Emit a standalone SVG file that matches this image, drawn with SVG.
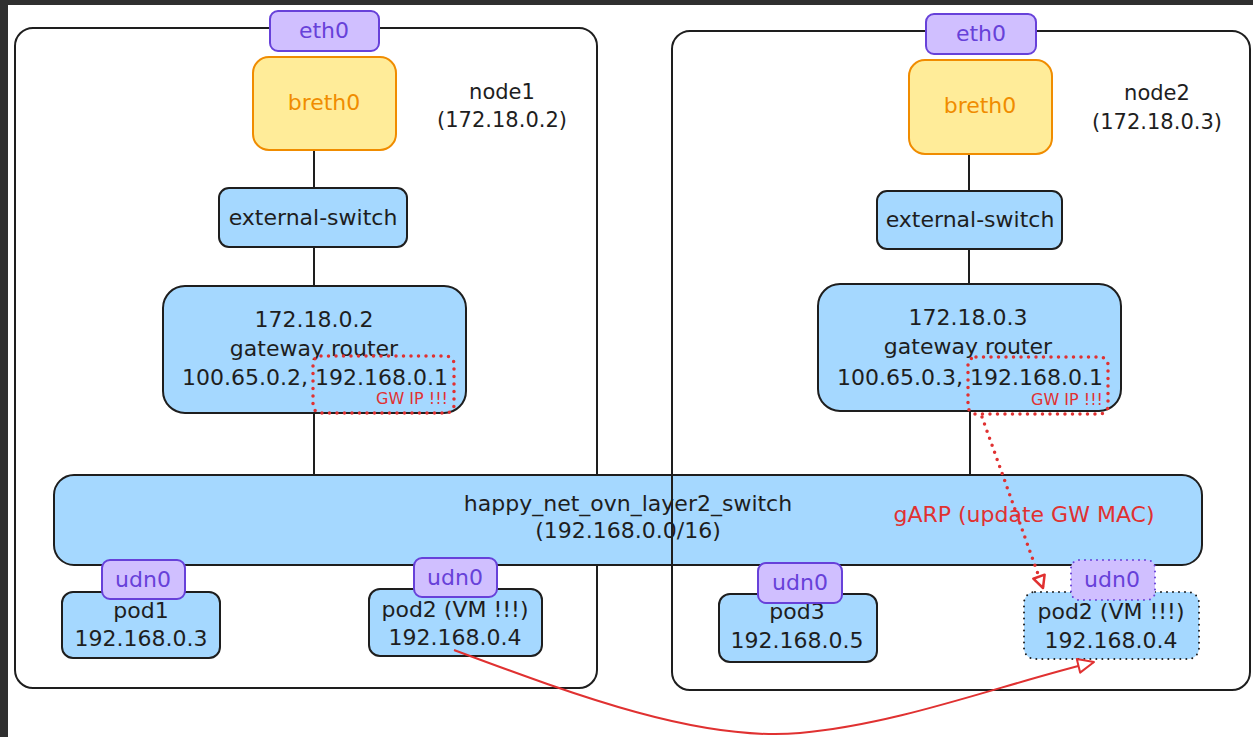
<svg xmlns="http://www.w3.org/2000/svg" width="1253" height="737" viewBox="0 0 1253 737">
<style>
text{font-family:"DejaVu Sans","Liberation Sans",sans-serif;font-size:22px;fill:#1e1e1e;text-anchor:middle}
.container{fill:none;stroke:#1e1e1e;stroke-width:2}
.blue{fill:#a5d8ff;stroke:#1e1e1e;stroke-width:2}
.blue-dot{fill:#a5d8ff;stroke:#1e1e1e;stroke-width:2;stroke-dasharray:0 6;stroke-linecap:round}
.tab{fill:#d0bfff;stroke:#6741d9;stroke-width:2}
.tab-dot{fill:#d0bfff;stroke:#6741d9;stroke-width:2;stroke-dasharray:0 6;stroke-linecap:round}
.yellow{fill:#ffec99;stroke:#f08c00;stroke-width:2}
.red-dot{fill:none;stroke:#e03131;stroke-width:3.5;stroke-dasharray:0 7.5;stroke-linecap:round}
.link{stroke:#1e1e1e;stroke-width:2;fill:none}
.purple{fill:#6741d9}
.orange{fill:#f08c00}
.red{fill:#e03131}
.small{font-size:16px;text-anchor:end}
.lbl{font-size:21px}
</style>
<defs>
<marker id="openArrow" viewBox="0 0 20 20" refX="18" refY="10" markerWidth="20" markerHeight="20" markerUnits="userSpaceOnUse" orient="auto">
<path d="M2,3 L18,10 L2,17 Z" fill="#ffffff" stroke="#e03131" stroke-width="2" stroke-linejoin="round"/>
</marker>
<marker id="smallArrow" viewBox="0 0 16 16" refX="14" refY="8" markerWidth="16" markerHeight="16" markerUnits="userSpaceOnUse" orient="auto">
<path d="M2,2 L14,8 L2,14 Z" fill="#ffffff" stroke="#e03131" stroke-width="2.5" stroke-linejoin="round"/>
</marker>
</defs>
<rect x="0" y="0" width="1253" height="737" fill="#ffffff"/>
<rect x="0" y="0" width="1253" height="5" fill="#2f2f2f"/>
<rect x="0" y="0" width="8" height="737" fill="#2f2f2f"/>

<g id="node1-container"><rect class="container" x="15" y="28" width="582" height="660" rx="18"/></g>

<g id="switch">
<rect class="blue" x="54" y="475" width="1148" height="90" rx="20"/>
<text x="628" y="511">happy_net_ovn_layer2_switch</text>
<text x="628" y="538">(192.168.0.0/16)</text>
</g>

<g id="node2-container"><rect class="container" x="672" y="31" width="578" height="659" rx="18"/></g>

<g id="connectors">
<line class="link" x1="314" y1="151" x2="314" y2="188"/>
<line class="link" x1="314" y1="247" x2="314" y2="286"/>
<line class="link" x1="314" y1="413" x2="314" y2="475"/>
<line class="link" x1="969" y1="154" x2="969" y2="191"/>
<line class="link" x1="969" y1="249" x2="969" y2="284"/>
<line class="link" x1="970" y1="411" x2="970" y2="475"/>
</g>

<g id="node1-label">
<text class="lbl" x="502" y="99">node1</text>
<text class="lbl" x="502" y="127">(172.18.0.2)</text>
</g>
<g id="node1-eth0"><rect class="tab" x="270" y="11" width="109" height="40" rx="8"/><text class="purple" x="324" y="38">eth0</text></g>
<g id="node1-breth0"><rect class="yellow" x="253" y="57" width="143" height="93" rx="16"/><text class="orange" x="324" y="110">breth0</text></g>
<g id="node1-external-switch"><rect class="blue" x="219" y="188" width="188" height="59" rx="10"/><text x="313" y="225">external-switch</text></g>
<g id="node1-gateway-router">
<rect class="blue" x="163" y="286" width="303" height="127" rx="22"/>
<text x="314" y="327">172.18.0.2</text>
<text x="314" y="356">gateway router</text>
<text x="315" y="385">100.65.0.2, 192.168.0.1</text>
<rect class="red-dot" x="313" y="356" width="141" height="57" rx="8"/>
<text class="red small" x="448" y="404">GW IP !!!</text>
</g>
<g id="node1-pod1">
<rect class="blue" x="62" y="592" width="158" height="66" rx="11"/>
<text x="141" y="618">pod1</text>
<text x="141" y="646">192.168.0.3</text>
</g>
<g id="node1-pod1-udn0"><rect class="tab" x="102" y="560" width="83" height="39" rx="8"/><text class="purple" x="143" y="587">udn0</text></g>
<g id="node1-pod2">
<rect class="blue" x="369" y="589" width="173" height="67" rx="11"/>
<text x="455" y="617">pod2 (VM !!!)</text>
<text x="455" y="645">192.168.0.4</text>
</g>
<g id="node1-pod2-udn0"><rect class="tab" x="414" y="558" width="83" height="39" rx="8"/><text class="purple" x="455" y="585">udn0</text></g>

<g id="node2-label">
<text class="lbl" x="1157" y="100">node2</text>
<text class="lbl" x="1157" y="129">(172.18.0.3)</text>
</g>
<g id="node2-eth0"><rect class="tab" x="926" y="14" width="110" height="40" rx="8"/><text class="purple" x="981" y="41">eth0</text></g>
<g id="node2-breth0"><rect class="yellow" x="909" y="60" width="143" height="94" rx="16"/><text class="orange" x="980" y="113">breth0</text></g>
<g id="node2-external-switch"><rect class="blue" x="877" y="191" width="185" height="58" rx="10"/><text x="970" y="227">external-switch</text></g>
<g id="node2-gateway-router">
<rect class="blue" x="818" y="284" width="303" height="127" rx="22"/>
<text x="968" y="325">172.18.0.3</text>
<text x="968" y="354">gateway router</text>
<text x="970" y="385">100.65.0.3, 192.168.0.1</text>
<rect class="red-dot" x="968" y="357" width="140" height="57" rx="8"/>
<text class="red small" x="1103" y="405">GW IP !!!</text>
</g>
<g id="node2-pod3">
<rect class="blue" x="719" y="594" width="158" height="68" rx="11"/>
<text x="797" y="619">pod3</text>
<text x="797" y="648">192.168.0.5</text>
</g>
<g id="node2-pod3-udn0"><rect class="tab" x="758" y="563" width="84" height="40" rx="8"/><text class="purple" x="800" y="590">udn0</text></g>
<g id="node2-pod2">
<rect class="blue-dot" x="1024" y="592" width="175" height="67" rx="11"/>
<text x="1111" y="619">pod2 (VM !!!)</text>
<text x="1111" y="648">192.168.0.4</text>
</g>
<g id="node2-pod2-udn0"><rect class="tab-dot" x="1071" y="560" width="84" height="40" rx="8"/><text class="purple" x="1112" y="587">udn0</text></g>

<g id="garp-label"><text class="red" x="1024" y="522">gARP (update GW MAC)</text></g>

<g id="arrows">
<line class="red-dot" x1="982" y1="417" x2="1043" y2="588" marker-end="url(#smallArrow)"/>
<path d="M454,650 C575,695 700,742 800,733 C900,724 1000,685 1094,662" fill="none" stroke="#e03131" stroke-width="2" marker-end="url(#openArrow)"/>
</g>
</svg>
